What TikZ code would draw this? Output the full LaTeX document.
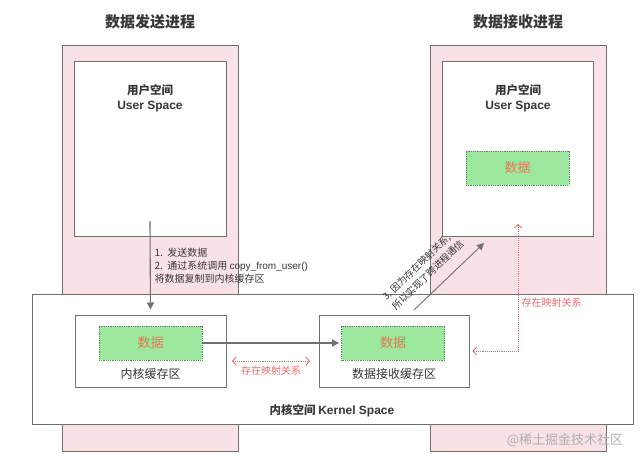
\documentclass[tikz,border=0pt]{standalone}
\usepackage{fontspec}
\setmainfont{Noto Sans CJK SC}
\newfontfamily\lat{Liberation Sans}
\usetikzlibrary{arrows.meta}
\definecolor{pinkfill}{RGB}{249,226,230}
\definecolor{boxline}{RGB}{112,112,112}
\definecolor{greenfill}{RGB}{155,232,158}
\definecolor{greenline}{RGB}{90,140,90}
\definecolor{txt}{RGB}{55,55,55}
\definecolor{datatxt}{RGB}{232,118,82}
\definecolor{redline}{RGB}{230,110,110}
\definecolor{wm}{RGB}{175,175,175}
\tikzset{
  outerbox/.style={draw=boxline, line width=1pt, fill=pinkfill, inner sep=0pt},
  whitebox/.style={draw=boxline, line width=1pt, fill=white, inner sep=0pt},
  databox/.style={draw=greenline, densely dotted, line width=0.8pt, fill=greenfill, inner sep=0pt,
     minimum width=103pt, minimum height=34pt, text=datatxt, font=\fontsize{13}{15}\selectfont},
  grayarrow/.style={draw=boxline, line width=1.1pt, -{Triangle[width=7pt,length=7pt]}},
  redarrow/.style={draw=redline, densely dotted, line width=0.9pt, {Straight Barb[length=3.5pt,width=8pt]}-{Straight Barb[length=3.5pt,width=8pt]}},
  titletxt/.style={text=txt, font=\fontsize{15}{18}\selectfont\bfseries},
  smalltxt/.style={text=txt, font=\fontsize{10}{13}\selectfont},
  redtxt/.style={text=redline, font=\fontsize{10}{12}\selectfont},
}
\begin{document}
\begin{tikzpicture}[x=1pt,y=-1pt]
\useasboundingbox (0,0) rectangle (640,461);
\fill[white] (0,0) rectangle (640,461);
% process boxes
\node[outerbox, minimum width=176pt, minimum height=406pt] (sendproc) at (150,248) {};
\node[outerbox, minimum width=176pt, minimum height=406pt] (recvproc) at (518,248) {};
\node[whitebox, minimum width=152pt, minimum height=175pt] (sendus) at (150,148.5) {};
\node[whitebox, minimum width=151pt, minimum height=175pt] (recvus) at (517.5,148.5) {};
% titles
\node[titletxt] (t1) at (150,22) {数据发送进程};
\node[titletxt] (t2) at (518,22) {数据接收进程};
% user space labels
\node[text=txt, font=\fontsize{11.5}{14}\selectfont\bfseries] (us1a) at (150,90) {用户空间};
\node[text=txt, font=\lat\fontsize{12}{14}\selectfont\bfseries] (us1b) at (150,107) {User Space};
\node[text=txt, font=\fontsize{11.5}{14}\selectfont\bfseries] (us2a) at (518,90) {用户空间};
\node[text=txt, font=\lat\fontsize{12}{14}\selectfont\bfseries] (us2b) at (518,107) {User Space};
\node[databox] (udata) at (517.5,168) {数据};
% kernel
\node[whitebox, minimum width=601pt, minimum height=130pt] (kernel) at (332.5,359) {};
\node[whitebox, minimum width=151pt, minimum height=72pt] (kbufL) at (150.5,351) {};
\node[whitebox, minimum width=150pt, minimum height=72pt] (kbufR) at (394,351) {};
\node[databox] (kdataL) at (150.5,343) {数据};
\node[databox] (kdataR) at (393,343) {数据};
\node[text=txt, font=\fontsize{12}{14}\selectfont] (lblL) at (150.5,374) {内核缓存区};
\node[text=txt, font=\fontsize{12}{14}\selectfont] (lblR) at (394,374) {数据接收缓存区};
\node[text=txt, font=\fontsize{11.5}{14}\selectfont\bfseries] (klbl) at (332,411) {内核空间 {\lat\fontsize{12}{14}\selectfont\bfseries Kernel Space}};
% arrow 1
\coordinate (a1s) at (150,221);
\draw[grayarrow, shorten >=5pt] (a1s) -- (kbufL.north);
\node[smalltxt, anchor=west, align=left] (note1) at (151,266) {1.\ \ 发送数据\\2.\ \ 通过系统调用 {\lat copy\_from\_user()}\\将数据复制到内核缓存区};
% data arrow
\draw[grayarrow, shorten >=2pt] (kdataL.east) -- (kdataR.west);
% red mapping between
\coordinate (m1) at (232,361);
\coordinate (m2) at (310,361);
\draw[redarrow] (m1) -- (m2);
\node[redtxt] (mlbl1) at (271,371) {存在映射关系};
% red mapping up
\coordinate (up) at (518,224);
\coordinate (corner) at (518,351);
\draw[redarrow, shorten >=3pt] (up) -- (corner) -- (kbufR.east);
\node[redtxt, anchor=west] (mlbl2) at (518,303) {存在映射关系};
% diagonal
\coordinate (d1) at (414,310);
\coordinate (d2) at (484,243);
\draw[grayarrow, line width=0.9pt] (d1) -- (d2);
\node[smalltxt, rotate=44, align=left, font=\fontsize{9.5}{13.5}\selectfont] (note3) at (423,270) {3. 因为存在映射关系,\\所以实现了跨进程通信};
% watermark
\node[text=wm, font=\fontsize{13}{15}\selectfont] (wmark) at (565,440) {@稀土掘金技术社区};
\end{tikzpicture}
\end{document}
